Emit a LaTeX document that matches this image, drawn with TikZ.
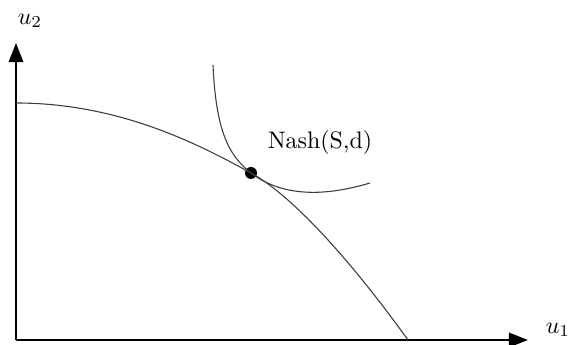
\documentclass[tikz,border=0pt]{standalone}
\usepackage{tikz}
\usetikzlibrary{arrows.meta,positioning}
\definecolor{cAxis}{RGB}{0,0,0}
\definecolor{cCurve}{RGB}{60,60,60}
\tikzset{
  axis/.style={-{Triangle[length=8pt,width=6pt]},line width=1pt,color=cAxis},
  curve/.style={line width=0.45pt,color=cCurve},
  optdot/.style={circle,fill=black,inner sep=0pt,minimum size=12*0.0147cm},
  lbl/.style={inner sep=1pt,font=\normalsize}
}
\begin{document}
\begin{tikzpicture}[x=0.0147cm,y=0.0147cm]
  \useasboundingbox (0,0) rectangle (571,345);
  % axes
  \coordinate (O) at (16,5);
  \coordinate (xend) at (528,5);
  \coordinate (yend) at (16,302);
  \draw[axis] (O) -- (xend);
  \draw[axis] (O) -- (yend);
  \node[lbl] (u1) at (558,15) {$u_1$};
  \node[lbl] (u2) at (30,324) {$u_2$};
  % bargaining frontier
  \node[optdot] (nash) at (251,172) {};
  \coordinate (fstart) at (16,242);
  \coordinate (fend) at (408,5);
  \draw[curve] (fstart) .. controls (120,242) and (200,200) .. (nash.center)
                        .. controls (300,145) and (365,65) .. (fend);
  % indifference curve
  \coordinate (istart) at (213,280);
  \coordinate (iend) at (370,162);
  \draw[curve] (istart) .. controls (216,215) and (228,190) .. (nash.center)
                        .. controls (285,146) and (330,150) .. (iend);
  \node[lbl] (nashlbl) at (320,202) {Nash(S,d)};
\end{tikzpicture}
\end{document}
